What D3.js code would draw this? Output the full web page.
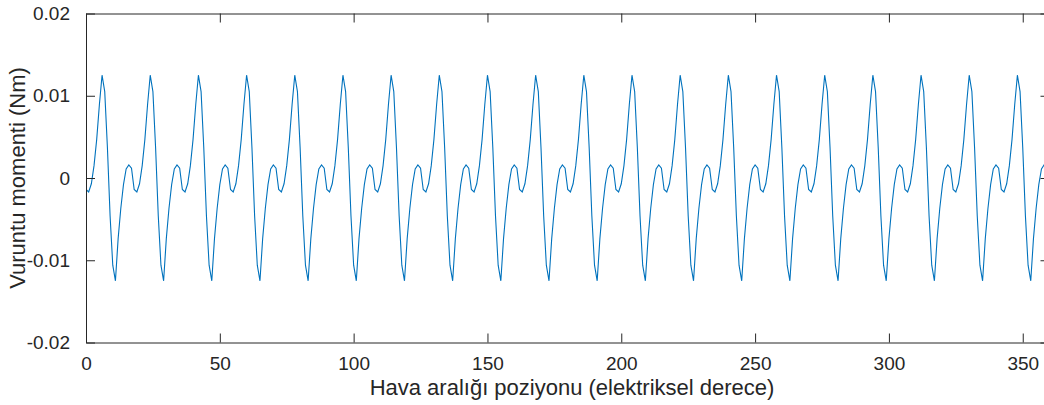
<!DOCTYPE html>
<html>
<head>
<meta charset="utf-8">
<script src="https://cdn.jsdelivr.net/npm/d3@7"></script>
<style>
  body { margin: 0; background: #fff; }
  svg text { font-family: "Liberation Sans", Arial, sans-serif; fill: #262626; }
</style>
</head>
<body>
<svg id="chart" width="1044" height="405"></svg>
<script>
// Cogging torque vs. air gap position, one sample per electrical degree
const angles = d3.range(0, 360);
const torque = [
  -0.0014, -0.0017, -0.0007, 0.0015, 0.0047, 0.0089, 0.0125, 0.0105, 0.0037, -0.0046, -0.0106, -0.0125, -0.0074, -0.0037, -0.0008, 0.0011, 0.0016, 0.0012,
  -0.0014, -0.0017, -0.0007, 0.0015, 0.0047, 0.0089, 0.0125, 0.0105, 0.0037, -0.0046, -0.0106, -0.0125, -0.0074, -0.0037, -0.0008, 0.0011, 0.0016, 0.0012,
  -0.0014, -0.0017, -0.0007, 0.0015, 0.0047, 0.0089, 0.0125, 0.0105, 0.0037, -0.0046, -0.0106, -0.0125, -0.0074, -0.0037, -0.0008, 0.0011, 0.0016, 0.0012,
  -0.0014, -0.0017, -0.0007, 0.0015, 0.0047, 0.0089, 0.0125, 0.0105, 0.0037, -0.0046, -0.0106, -0.0125, -0.0074, -0.0037, -0.0008, 0.0011, 0.0016, 0.0012,
  -0.0014, -0.0017, -0.0007, 0.0015, 0.0047, 0.0089, 0.0125, 0.0105, 0.0037, -0.0046, -0.0106, -0.0125, -0.0074, -0.0037, -0.0008, 0.0011, 0.0016, 0.0012,
  -0.0014, -0.0017, -0.0007, 0.0015, 0.0047, 0.0089, 0.0125, 0.0105, 0.0037, -0.0046, -0.0106, -0.0125, -0.0074, -0.0037, -0.0008, 0.0011, 0.0016, 0.0012,
  -0.0014, -0.0017, -0.0007, 0.0015, 0.0047, 0.0089, 0.0125, 0.0105, 0.0037, -0.0046, -0.0106, -0.0125, -0.0074, -0.0037, -0.0008, 0.0011, 0.0016, 0.0012,
  -0.0014, -0.0017, -0.0007, 0.0015, 0.0047, 0.0089, 0.0125, 0.0105, 0.0037, -0.0046, -0.0106, -0.0125, -0.0074, -0.0037, -0.0008, 0.0011, 0.0016, 0.0012,
  -0.0014, -0.0017, -0.0007, 0.0015, 0.0047, 0.0089, 0.0125, 0.0105, 0.0037, -0.0046, -0.0106, -0.0125, -0.0074, -0.0037, -0.0008, 0.0011, 0.0016, 0.0012,
  -0.0014, -0.0017, -0.0007, 0.0015, 0.0047, 0.0089, 0.0125, 0.0105, 0.0037, -0.0046, -0.0106, -0.0125, -0.0074, -0.0037, -0.0008, 0.0011, 0.0016, 0.0012,
  -0.0014, -0.0017, -0.0007, 0.0015, 0.0047, 0.0089, 0.0125, 0.0105, 0.0037, -0.0046, -0.0106, -0.0125, -0.0074, -0.0037, -0.0008, 0.0011, 0.0016, 0.0012,
  -0.0014, -0.0017, -0.0007, 0.0015, 0.0047, 0.0089, 0.0125, 0.0105, 0.0037, -0.0046, -0.0106, -0.0125, -0.0074, -0.0037, -0.0008, 0.0011, 0.0016, 0.0012,
  -0.0014, -0.0017, -0.0007, 0.0015, 0.0047, 0.0089, 0.0125, 0.0105, 0.0037, -0.0046, -0.0106, -0.0125, -0.0074, -0.0037, -0.0008, 0.0011, 0.0016, 0.0012,
  -0.0014, -0.0017, -0.0007, 0.0015, 0.0047, 0.0089, 0.0125, 0.0105, 0.0037, -0.0046, -0.0106, -0.0125, -0.0074, -0.0037, -0.0008, 0.0011, 0.0016, 0.0012,
  -0.0014, -0.0017, -0.0007, 0.0015, 0.0047, 0.0089, 0.0125, 0.0105, 0.0037, -0.0046, -0.0106, -0.0125, -0.0074, -0.0037, -0.0008, 0.0011, 0.0016, 0.0012,
  -0.0014, -0.0017, -0.0007, 0.0015, 0.0047, 0.0089, 0.0125, 0.0105, 0.0037, -0.0046, -0.0106, -0.0125, -0.0074, -0.0037, -0.0008, 0.0011, 0.0016, 0.0012,
  -0.0014, -0.0017, -0.0007, 0.0015, 0.0047, 0.0089, 0.0125, 0.0105, 0.0037, -0.0046, -0.0106, -0.0125, -0.0074, -0.0037, -0.0008, 0.0011, 0.0016, 0.0012,
  -0.0014, -0.0017, -0.0007, 0.0015, 0.0047, 0.0089, 0.0125, 0.0105, 0.0037, -0.0046, -0.0106, -0.0125, -0.0074, -0.0037, -0.0008, 0.0011, 0.0016, 0.0012,
  -0.0014, -0.0017, -0.0007, 0.0015, 0.0047, 0.0089, 0.0125, 0.0105, 0.0037, -0.0046, -0.0106, -0.0125, -0.0074, -0.0037, -0.0008, 0.0011, 0.0016, 0.0012,
  -0.0014, -0.0017, -0.0007, 0.0015, 0.0047, 0.0089, 0.0125, 0.0105, 0.0037, -0.0046, -0.0106, -0.0125, -0.0074, -0.0037, -0.0008, 0.0011, 0.0016, 0.0012
];
const xTicks = [0, 50, 100, 150, 200, 250, 300, 350];
const yTicks = [-0.02, -0.01, 0, 0.01, 0.02];
const yTickLabels = ["-0.02", "-0.01", "0", "0.01", "0.02"];

const svg = d3.select("#chart");
const plotLeft = 86, plotRight = 1049.5, plotTop = 13.5, plotBottom = 342.5;

const x = d3.scaleLinear().domain([0, 360]).range([plotLeft, plotRight]);
const y = d3.scaleLinear().domain([-0.02, 0.02]).range([plotBottom, plotTop]);

// clip to the axes box
svg.append("clipPath").attr("id", "plot-clip")
  .append("rect").attr("x", plotLeft).attr("y", plotTop)
  .attr("width", plotRight - plotLeft).attr("height", plotBottom - plotTop);

// data line
const data = angles.map((a, i) => [a, torque[i]]);
svg.append("path")
  .datum(data)
  .attr("clip-path", "url(#plot-clip)")
  .attr("fill", "none")
  .attr("stroke", "#0072BD")
  .attr("stroke-width", 1.1)
  .attr("stroke-linejoin", "miter")
  .attr("d", d3.line().x(d => x(d[0])).y(d => y(d[1])));

// axes (MATLAB style box, ticks inward)
const tickLen = 9;
const axisColor = "#262626";

svg.append("g")
  .attr("transform", `translate(0,${plotBottom})`)
  .call(d3.axisBottom(x).tickValues(xTicks).tickSizeInner(-tickLen).tickSizeOuter(0).tickPadding(14))
  .call(g => g.select(".domain").attr("stroke", axisColor))
  .call(g => g.selectAll(".tick line").attr("stroke", axisColor))
  .call(g => g.selectAll(".tick text").attr("font-size", "19px").attr("font-family", "Liberation Sans, Arial, sans-serif").attr("fill", axisColor));

svg.append("g")
  .attr("transform", `translate(0,${plotTop})`)
  .call(d3.axisTop(x).tickValues(xTicks).tickSizeInner(-tickLen).tickSizeOuter(0).tickFormat(""))
  .call(g => g.select(".domain").attr("stroke", axisColor))
  .call(g => g.selectAll(".tick line").attr("stroke", axisColor));

svg.append("g")
  .attr("transform", `translate(${plotLeft},0)`)
  .call(d3.axisLeft(y).tickValues(yTicks).tickSizeInner(-tickLen).tickSizeOuter(0).tickPadding(16)
    .tickFormat((d, i) => yTickLabels[i]))
  .call(g => g.select(".domain").attr("stroke", axisColor))
  .call(g => g.selectAll(".tick line").attr("stroke", axisColor))
  .call(g => g.selectAll(".tick text").attr("font-size", "19px").attr("font-family", "Liberation Sans, Arial, sans-serif").attr("fill", axisColor));

svg.append("g")
  .attr("transform", `translate(${plotRight},0)`)
  .call(d3.axisRight(y).tickValues(yTicks).tickSizeInner(-tickLen).tickSizeOuter(0).tickFormat(""))
  .call(g => g.select(".domain").attr("stroke", axisColor))
  .call(g => g.selectAll(".tick line").attr("stroke", axisColor));

// axis labels
svg.append("text")
  .attr("x", 572)
  .attr("y", 395)
  .attr("text-anchor", "middle")
  .attr("font-size", "22px")
  .text("Hava aralığı poziyonu (elektriksel derece)");

svg.append("text")
  .attr("transform", `translate(25,${(plotTop + plotBottom) / 2}) rotate(-90)`)
  .attr("text-anchor", "middle")
  .attr("font-size", "22px")
  .text("Vuruntu momenti (Nm)");
</script>
</body>
</html>
